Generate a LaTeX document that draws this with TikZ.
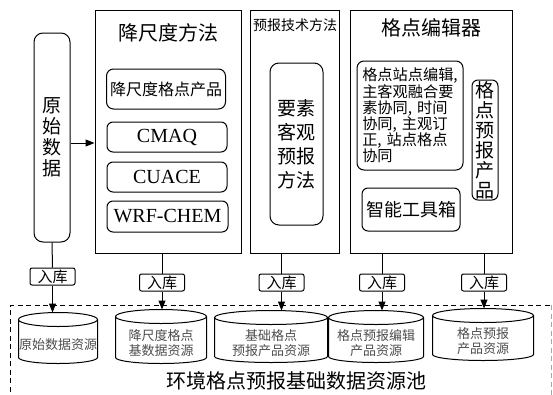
\documentclass[tikz,border=0pt]{standalone}
\usepackage{fontspec}
\setmainfont{Liberation Serif}
\newfontfamily\cjk{Noto Sans CJK SC}
\usetikzlibrary{arrows.meta,calc}
\newcommand\fsz[2]{\fontsize{#1}{#2}\selectfont}
\newcommand\cmsp{,\hspace{5pt}}
\begin{document}
\begin{tikzpicture}[x=1pt,y=-1pt,line width=1pt,
  frame/.style={draw,rectangle,inner sep=0pt},
  rbox/.style={draw,rounded corners=7pt,inner sep=0pt,align=center},
  latinbox/.style={draw,rounded corners=6pt,inner sep=0pt,minimum width=120pt,minimum height=30pt,font=\fsz{20}{22}},
  lbl/.style={draw,fill=white,rounded corners=2pt,inner sep=0pt,minimum width=45pt,minimum height=17pt,font=\cjk\fsz{15}{16}},
  cylbody/.style={inner sep=0pt,font=\cjk\fsz{13}{15},text=black!70,align=center},
  arr/.style={-{Triangle[length=9pt,width=7pt]}},
]
\useasboundingbox (0,0) rectangle (553,394);

% raw data
\node[rbox,rounded corners=9pt,minimum width=36pt,minimum height=209pt,font=\cjk\fsz{19}{21}] (raw) at (52,137.5) {原\\始\\数\\据};

% downscaling
\node[frame,minimum width=146pt,minimum height=243pt] (dsbox) at (168,131.5) {};
\node[font=\cjk\fsz{20}{22},inner sep=0pt] (dstitle) at (168,33) {降尺度方法};
\node[rbox,minimum width=119pt,minimum height=40pt,font=\cjk\fsz{16}{18}] (dsprod) at (166,89) {降尺度格点产品};
\node[latinbox] (cmaq) at (167,137) {CMAQ};
\node[latinbox] (cuace) at (167,177) {CUACE};
\node[latinbox,minimum width=121pt,minimum height=31pt] (wrf) at (167.5,216.5) {WRF-CHEM};

% forecast technique
\node[frame,minimum width=89pt,minimum height=243pt] (fcbox) at (294.5,131.5) {};
\node[font=\cjk\fsz{14}{16},inner sep=0pt] (fctitle) at (295,25) {预报技术方法};
\node[rbox,rounded corners=9pt,minimum width=53pt,minimum height=162pt,font=\cjk\fsz{19}{24}] (obj) at (296.5,144) {要素\\客观\\预报\\方法};

% grid editor
\node[frame,minimum width=162pt,minimum height=243pt] (gebox) at (431,131.5) {};
\node[font=\cjk\fsz{20}{22},inner sep=0pt] (getitle) at (431,28) {格点编辑器};
\node[rbox,minimum width=106pt,minimum height=109pt,align=left,font=\cjk\fsz{15.2}{16.2}] (geedit) at (410,115.5)
  {格点站点编辑,\\主客观融合要\\素协同\cmsp 时间\\协同\cmsp 主观订\\正\cmsp 站点格点\\协同\hspace*{64pt}};
\node[rbox,rounded corners=6pt,minimum width=26pt,minimum height=120pt,font=\cjk\fsz{19}{20}] (geprod) at (485,140) {格\\点\\预\\报\\产\\品};
\node[rbox,rounded corners=6pt,minimum width=98pt,minimum height=43pt,font=\cjk\fsz{18}{20}] (tools) at (411,209.5) {智能工具箱};

\draw[arr] (raw.east |- 0,143) -- (dsbox.west |- 0,143);

% store labels
\node[lbl] (r1) at (52.5,276.5) {入库};
\node[lbl] (r2) at (162,282.5) {入库};
\node[lbl] (r3) at (281.5,282.5) {入库};
\node[lbl] (r4) at (382,282.5) {入库};
\node[lbl] (r5) at (484,282.5) {入库};

% pool
\draw[dashed,dash pattern=on 5pt off 3.5pt] (10.5,400) -- (10.5,305) -- (553,305);
\draw[dashed,dash pattern=on 5pt off 3.5pt,black!35] (551.5,305) -- (551.5,400);
\node[font=\cjk\fsz{20}{22},inner sep=0pt] (pool) at (296,381) {环境格点预报基础数据资源池};

% cylinders (body nodes: below the front line of top ellipse)
\node[cylbody,minimum width=78pt,minimum height=36pt] (c1) at (58,345) {原始数据资源};
\node[cylbody,minimum width=90pt,minimum height=39pt] (c2) at (161,343.5) {降尺度格点\\基数据资源};
\node[cylbody,minimum width=112pt,minimum height=37pt] (c3) at (271,343.5) {基础格点\\预报产品资源};
\node[cylbody,minimum width=94pt,minimum height=37pt] (c4) at (376,343.5) {格点预报编辑\\产品资源};
\node[cylbody,minimum width=100pt,minimum height=37pt] (c5) at (483,341.5) {格点预报\\产品资源};
\foreach \c in {c1,c2,c3,c4,c5}{
  \draw let \p1=(\c.north west), \p2=(\c.south east), \n1={(\x2-\x1)/2} in
    (\x1+\n1,\y1+7pt) ellipse [x radius=\n1, y radius=7pt]
    (\x1,\y1+7pt) -- (\x1,\y2+6pt) arc[start angle=180,end angle=360,x radius=\n1,y radius=6pt] -- (\x2,\y1+7pt);
  \coordinate (\c t) at ([yshift=14pt]\c.north);
}

% connectors
\draw (raw.south) -- (r1.north);
\draw[arr] (r1.south) -- (r1.south |- c1t);
\draw (r2.north |- dsbox.south) -- (r2.north);
\draw[arr] (r2.south) -- (r2.south |- c2t);
\draw (r3.north |- fcbox.south) -- (r3.north);
\draw[arr] (r3.south) -- (r3.south |- c3t);
\draw (r4.north |- gebox.south) -- (r4.north);
\draw[arr] (r4.south) -- (r4.south |- c4t);
\draw (r5.north |- gebox.south) -- (r5.north);
\draw[arr] (r5.south) -- (r5.south |- c5t);
\end{tikzpicture}
\end{document}
